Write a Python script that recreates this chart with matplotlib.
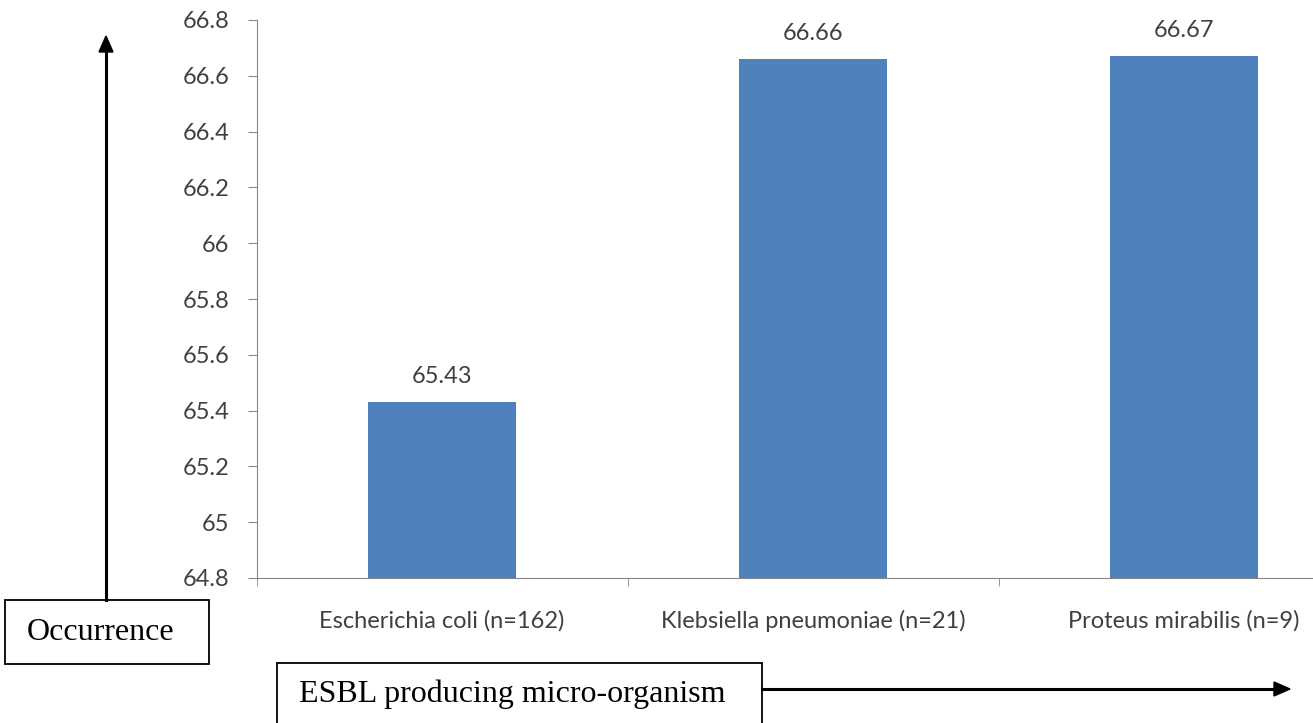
import numpy as np
import matplotlib.pyplot as plt
from matplotlib.patches import Rectangle

categories = ['Escherichia coli (n=162)', 'Klebsiella pneumoniae (n=21)', 'Proteus mirabilis (n=9)']
values = [65.43, 66.66, 66.67]
value_labels = ['65.43', '66.66', '66.67']
y_ticks = [64.8, 65, 65.2, 65.4, 65.6, 65.8, 66, 66.2, 66.4, 66.6, 66.8]

W, H = 1313, 723
fig = plt.figure(figsize=(W / 100, H / 100), dpi=100)
fig.patch.set_facecolor('white')

# axes runs past the right edge like in the original
ax = fig.add_axes([256.5 / W, 145 / H, 1113 / W, 558 / H])
x = np.arange(len(categories))
ax.bar(x, values, width=0.4, color='#4F81BD', bottom=0, zorder=2)
ax.set_xlim(-0.5, 2.5)
ax.set_ylim(64.8, 66.8)

grey = '#868686'
txt = '#404040'
fs = 17
ax.spines['top'].set_visible(False)
ax.spines['right'].set_visible(False)
ax.spines['left'].set_color(grey)
ax.spines['bottom'].set_color(grey)

ax.set_yticks(y_ticks)
ax.set_yticklabels(['{:g}'.format(v) for v in y_ticks])
ax.tick_params(axis='y', length=6.5, color=grey, pad=13, labelsize=fs, labelcolor=txt)

ax.set_xticks(x)
ax.set_xticklabels(categories)
ax.tick_params(axis='x', which='major', length=0, pad=23, labelsize=fs, labelcolor=txt)
ax.set_xticks([-0.5, 0.5, 1.5, 2.5], minor=True)
ax.tick_params(axis='x', which='minor', length=6, color=grey)

for lab in ax.get_xticklabels() + ax.get_yticklabels():
    lab.set_family('Lato')

for xi, v, s in zip(x, values, value_labels):
    ax.annotate(s, (xi, v), xytext=(0, 11), textcoords='offset points',
                ha='center', va='bottom', fontsize=fs, color=txt, family='Lato')

# hand drawn annotation boxes and arrows (figure pixel coordinates)
def fx(px):
    return px / W

def fy(py):
    return 1 - py / H

serif = 'Liberation Serif'
fig.add_artist(Rectangle((fx(5), fy(664)), fx(209) - fx(5), fy(600) - fy(664),
                         transform=fig.transFigure, fill=False, ec='black', lw=1.3))
fig.text(fx(101), fy(632), 'Occurrence', ha='center', va='center', fontsize=23,
         family=serif, color='black')
fig.add_artist(plt.Line2D([fx(106), fx(106)], [fy(600), fy(52)], transform=fig.transFigure,
                          color='black', lw=2.2))
fig.patches.append(plt.Polygon([[fx(99), fy(52)], [fx(113), fy(52)], [fx(106), fy(36)]],
                               closed=True, transform=fig.transFigure, color='black'))

fig.add_artist(Rectangle((fx(277), fy(740)), fx(762) - fx(277), fy(663) - fy(740),
                         transform=fig.transFigure, fill=False, ec='black', lw=1.3))
fig.text(fx(299), fy(694), 'ESBL producing micro-organism', ha='left', va='center',
         fontsize=23, family=serif, color='black')
fig.add_artist(plt.Line2D([fx(762), fx(1276)], [fy(689), fy(689)], transform=fig.transFigure,
                          color='black', lw=2.2))
fig.patches.append(plt.Polygon([[fx(1274), fy(682)], [fx(1274), fy(696)], [fx(1290), fy(689)]],
                               closed=True, transform=fig.transFigure, color='black'))

fig.savefig('out.png', dpi=100)
